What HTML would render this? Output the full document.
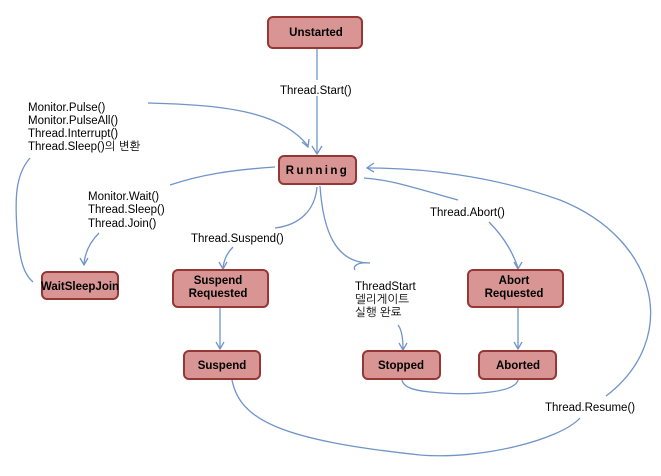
<!DOCTYPE html>
<html><head><meta charset="utf-8"><style>
html,body{margin:0;padding:0;background:#fff;}
svg{display:block;}
.n{fill:#d99594;stroke:#953735;stroke-width:2;}
.b{font-family:"Liberation Sans","NanumGothic",sans-serif;font-weight:bold;font-size:11.5px;fill:#000;text-anchor:middle;}
.t{font-family:"Liberation Sans","NanumGothic",sans-serif;font-size:11.5px;fill:#000;}
.l{fill:none;stroke:#7094c8;stroke-width:1.3;}
</style></head><body>
<svg width="661" height="476" viewBox="0 0 661 476" xmlns="http://www.w3.org/2000/svg">
<defs><marker id="a" markerWidth="10" markerHeight="10" refX="5" refY="8" orient="auto-start-reverse" markerUnits="userSpaceOnUse">
</marker></defs>
<!-- connectors -->
<path class="l" d="M317 49 V80"/>
<path class="l" d="M317 96 V153"/>
<path class="l" d="M312 146 l5 8 l5 -8"/>
<path class="l" d="M148 103 C220 105 280 110 308 146"/>
<path class="l" d="M302 142 l6 5 l1 -8"/>
<path class="l" d="M30 158 C15 175 15 200 17 230 C20 265 25 275 33 282"/>
<path class="l" d="M275 167 C230 170 200 175 170 185"/>
<path class="l" d="M99 233 C90 242 85 252 84 264"/>
<path class="l" d="M80 258 l4 7 l4 -7"/>
<path class="l" d="M317 187 C315 210 300 225 275 228"/>
<path class="l" d="M233 247 C228 252 224 258 223 268"/>
<path class="l" d="M219 262 l4 7 l4 -7"/>
<path class="l" d="M320 186 C323 230 335 263 370 263 C360 262 352 265 355 270"/>
<path class="l" d="M398 325 C402 330 403 340 403 349"/>
<path class="l" d="M399 343 l4 7 l4 -7"/>
<path class="l" d="M364 178 C390 180 405 185 458 200"/>
<path class="l" d="M489 222 C502 235 512 250 518 268"/>
<path class="l" d="M514 262 l4 7 l4 -7"/>
<path class="l" d="M220 308 V348"/>
<path class="l" d="M216 342 l4 7 l4 -7"/>
<path class="l" d="M518 308 V348"/>
<path class="l" d="M514 342 l4 7 l4 -7"/>
<path class="l" d="M518 380 C515 393 470 396 430 392 C410 390 403 386 402 380"/>
<path class="l" d="M232 380 C240 420 280 440 420 455 C480 460 560 440 580 418"/>
<path class="l" d="M606 396 C680 340 660 240 560 200 C490 175 420 168 368 168"/>
<path class="l" d="M374 163 l-7 5 l7 4"/>
<!-- nodes -->
<rect class="n" x="268" y="17" width="94" height="31" rx="5"/>
<text class="b" x="316" y="36">Unstarted</text>
<rect class="n" x="279" y="156" width="77" height="28" rx="5"/>
<text class="b" x="317.5" y="174" letter-spacing="2.4">Running</text>
<rect class="n" x="42" y="272" width="76" height="27" rx="5"/>
<text class="b" x="80" y="290">WaitSleepJoin</text>
<rect class="n" x="173" y="270" width="95" height="37" rx="5"/>
<text class="b" x="218" y="284">Suspend</text>
<text class="b" x="218" y="297">Requested</text>
<rect class="n" x="468" y="270" width="95" height="37" rx="5"/>
<text class="b" x="514" y="284">Abort</text>
<text class="b" x="514" y="297">Requested</text>
<rect class="n" x="184" y="351" width="76" height="28" rx="5"/>
<text class="b" x="222" y="369">Suspend</text>
<rect class="n" x="363" y="351" width="77" height="28" rx="5"/>
<text class="b" x="401" y="369">Stopped</text>
<rect class="n" x="479" y="351" width="77" height="28" rx="5"/>
<text class="b" x="518" y="369">Aborted</text>
<!-- labels -->
<text class="t" x="280" y="94">Thread.Start()</text>
<text class="t" x="28" y="111">Monitor.Pulse()</text>
<text class="t" x="28" y="124">Monitor.PulseAll()</text>
<text class="t" x="28" y="137">Thread.Interrupt()</text>
<text class="t" x="28" y="150">Thread.Sleep()의 변환</text>
<text class="t" x="88" y="200">Monitor.Wait()</text>
<text class="t" x="88" y="213">Thread.Sleep()</text>
<text class="t" x="88" y="227">Thread.Join()</text>
<text class="t" x="191" y="242">Thread.Suspend()</text>
<text class="t" x="430" y="216">Thread.Abort()</text>
<text class="t" x="355" y="290">ThreadStart</text>
<text class="t" x="355" y="303">델리게이트</text>
<text class="t" x="355" y="316">실행 완료</text>
<text class="t" x="545" y="411">Thread.Resume()</text>
</svg>
</body></html>
